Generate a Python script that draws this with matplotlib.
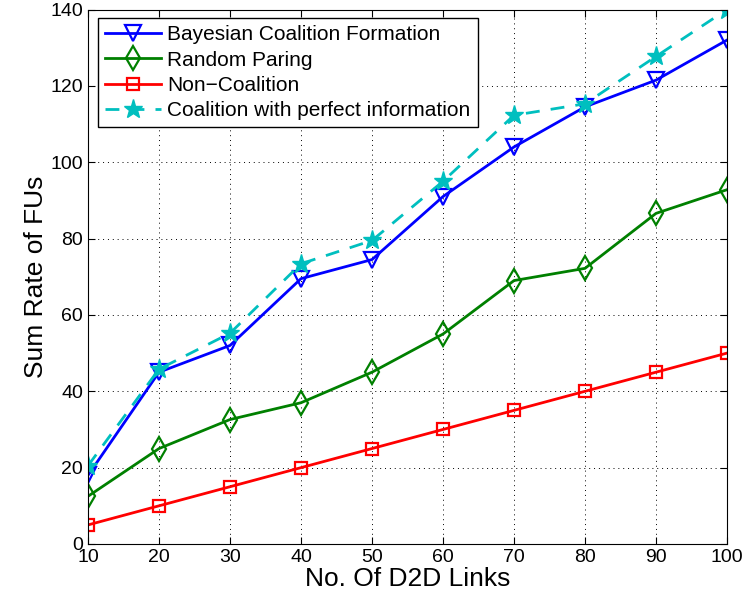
import matplotlib
matplotlib.use('Agg')
import matplotlib.pyplot as plt

plt.rcParams['font.family'] = ['Liberation Sans', 'DejaVu Sans']

links = [10, 20, 30, 40, 50, 60, 70, 80, 90, 100]
bayesian = [18, 45, 52, 69.5, 74.5, 91, 104, 114.5, 121.5, 132]
random_paring = [12.5, 25, 32.6, 37, 45, 55, 69, 72.2, 86.6, 92.8]
non_coalition = [5, 10, 15, 20, 25, 30, 35, 40, 45, 50]
perfect_info = [20.5, 45.8, 55.2, 73.4, 79.5, 95, 112.3, 115.3, 127.7, 140]

fig = plt.figure(figsize=(7.45, 6.03), dpi=100)
ax = fig.add_axes([88 / 745, 59 / 603, 639 / 745, 534.5 / 603])

ax.plot(links, bayesian, '-', color='#0000ff', lw=2, marker='v', ms=11,
        mfc='none', mew=1.6, label='Bayesian Coalition Formation')
ax.plot(links, random_paring, '-', color='#008000', lw=2, marker='d', ms=12,
        mfc='none', mew=1.6, label='Random Paring')
ax.plot(links, non_coalition, '-', color='#ff0000', lw=2, marker='s', ms=8,
        mfc='none', mew=1.6, label='Non\u2212Coalition')
ax.plot(links, perfect_info, '--', color='#00bfbf', lw=2, marker='*', ms=14,
        mew=1, label='Coalition with perfect information', dashes=(5, 4))

ax.set_xlim(10, 100)
ax.set_ylim(0, 140)
ax.set_xticks(range(10, 101, 10))
ax.set_yticks(range(0, 141, 20))
ax.tick_params(direction='in', top=True, right=True, labelsize=14, length=5)
ax.grid(True, color='black', linestyle=(0, (1, 4)), lw=0.7)

ax.set_xlabel('No. Of D2D Links', fontsize=19, labelpad=1)
ax.set_ylabel('Sum Rate of FUs', fontsize=19, labelpad=2)

leg = ax.legend(loc='upper left', fontsize=15, fancybox=False, framealpha=1,
                edgecolor='black', handlelength=2.7, handletextpad=0.3,
                borderpad=0.35, labelspacing=0.3, borderaxespad=0,
                bbox_to_anchor=(0.015, 0.984))
leg.get_frame().set_linewidth(1)

fig.savefig('out.png', dpi=100)
